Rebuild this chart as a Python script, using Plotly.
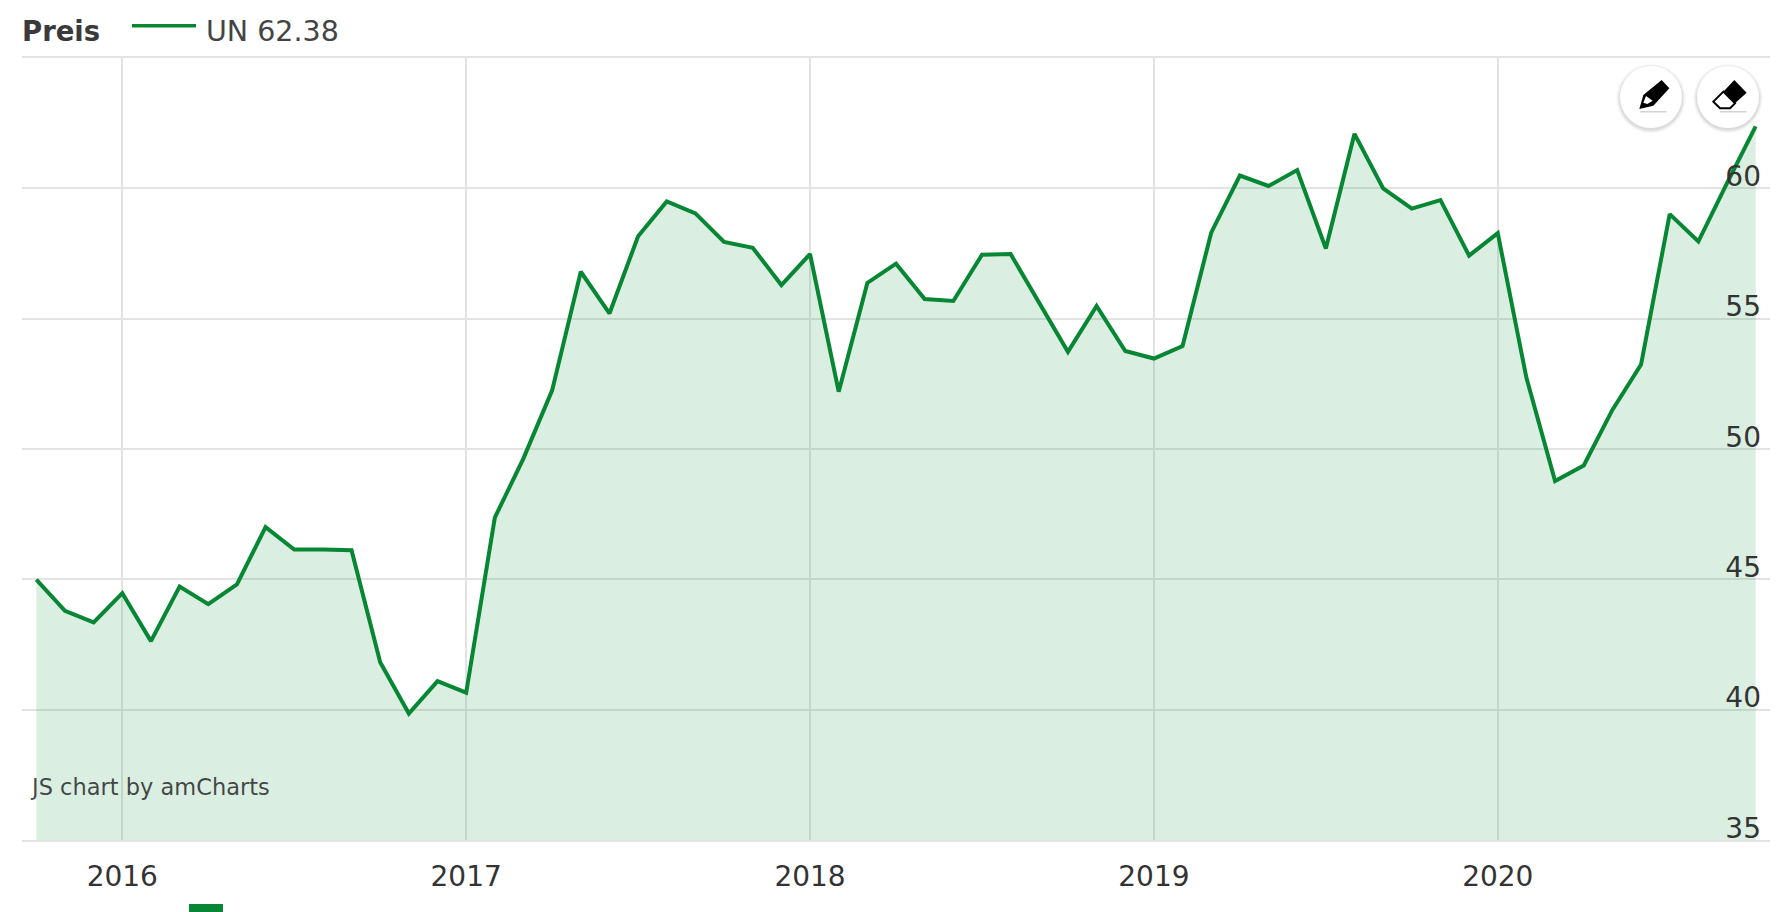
import plotly.graph_objects as go

W, H = 1790, 912
L, R, T, B = 22, 1770, 58, 840

months = [f"{2015 + (9 + i) // 12}-{(9 + i) % 12 + 1:02d}" for i in range(61)]
prices = [44.99, 43.79, 43.35, 44.47, 42.63, 44.72, 44.05, 44.81, 47.0, 46.14, 46.14, 46.12,
          41.82, 39.85, 41.09, 40.65, 47.37, 49.64, 52.25, 56.8, 55.2, 58.16, 59.5, 59.04,
          57.94, 57.72, 56.29, 57.48, 52.2, 56.37, 57.11, 55.75, 55.68, 57.45, 57.48, 55.6,
          53.73, 55.49, 53.76, 53.47, 53.95, 58.3, 60.49, 60.09, 60.7, 57.69, 62.09, 60.0,
          59.22, 59.55, 57.42, 58.28, 52.73, 48.77, 49.37, 51.5, 53.24, 59.01, 57.96, 60.2, 62.38]
year_ticks = ["2016-01", "2017-01", "2018-01", "2019-01", "2020-01"]
year_labels = ["2016", "2017", "2018", "2019", "2020"]
price_ticks = [35, 40, 45, 50, 55, 60, 65]
price_labels = ["35", "40", "45", "50", "55", "60", ""]
series_name = "UN 62.38"

GREEN = "#078733"
FONT = "DejaVu Sans"
GRID = "#e3e3e3"


def px(x):
    return (x - L) / (R - L)


def py(y):
    return (B - y) / (B - T)


def poly(points, fill, line=None, width=0):
    d = "M" + " L".join(f"{px(x):.5f},{py(y):.5f}" for x, y in points) + " Z"
    return dict(type="path", xref="paper", yref="paper", path=d, fillcolor=fill,
                line=dict(color=line or fill, width=width))


def circle(cx, cy, r, fill):
    return dict(type="circle", xref="paper", yref="paper", x0=px(cx - r), x1=px(cx + r),
                y0=py(cy + r), y1=py(cy - r), fillcolor=fill, line=dict(width=0))


def z(x, y):
    return 1560 + x / 3, 40 + y / 3


shapes = []
for cx in (1651, 1728):
    for grow, a in ((4, 0.02), (3, 0.03), (2, 0.04), (1, 0.05)):
        shapes.append(circle(cx, 98.5, 31 + grow, f"rgba(0,0,0,{a})"))
    shapes.append(circle(cx, 97, 31, "#ffffff"))

shapes += [
    poly([z(*p) for p in [(238, 207), (250, 165), (305, 120), (328, 145), (280, 197)]], "#000000"),
    poly([z(*p) for p in [(250, 188), (258, 168), (278, 182), (262, 192)]], "#ffffff"),
    poly([z(*p) for p in [(240, 214), (320, 214), (320, 217), (240, 217)]], "#bdbdbd"),
    poly([z(*p) for p in [(490, 155), (460, 185), (480, 205), (510, 205), (525, 190)]], "#ffffff", "#000000", 2),
    poly([z(*p) for p in [(523, 120), (560, 158), (525, 190), (490, 155)]], "#000000"),
    poly([z(*p) for p in [(480, 214), (560, 214), (560, 217), (480, 217)]], "#bdbdbd"),
    poly([(189, 904), (223, 904), (223, 912), (189, 912)], GREEN),
    poly([(132, 24), (196, 24), (196, 27.5), (132, 27.5)], GREEN),
]

fig = go.Figure()
fig.add_trace(go.Scatter(x=months, y=prices, mode="none", fill="tozeroy",
                         fillcolor="rgba(10,143,60,0.15)", showlegend=False))
fig.add_trace(go.Scatter(x=months, y=prices, mode="lines", name=series_name,
                         line=dict(color=GREEN, width=4), showlegend=False))

fig.update_layout(
    width=W, height=H,
    margin=dict(l=L, r=W - R, t=T, b=H - B, autoexpand=False),
    paper_bgcolor="#ffffff", plot_bgcolor="#ffffff",
    font=dict(family=FONT, color="#333333", size=26),
    showlegend=False,
    xaxis=dict(type="category", categoryorder="array", categoryarray=months,
               range=[-0.5, 60.5], tickmode="array", tickvals=year_ticks, ticktext=year_labels,
               showgrid=True, gridcolor=GRID, gridwidth=1.5, zeroline=False,
               showline=True, mirror=True, linecolor=GRID, linewidth=1.5,
               ticks="", ticklabelstandoff=11, tickfont=dict(size=28, color="#333333")),
    yaxis=dict(range=[35, 65], side="right", tickmode="array", tickvals=price_ticks, ticktext=price_labels,
               showgrid=True, gridcolor=GRID, gridwidth=1.5, zeroline=False,
               ticks="", ticklabelposition="inside", ticklabeloverflow="allow",
               ticklabelstandoff=6, ticklabelshift=-12,
               tickfont=dict(size=28, color="#333333")),
    shapes=shapes,
    annotations=[
        dict(text="<b>Preis</b>", xref="paper", yref="paper", x=px(22), y=py(31), xanchor="left", yanchor="middle",
             showarrow=False, font=dict(size=27.5, color="#3a3a3a"), xshift=-2),
        dict(text=series_name, xref="paper", yref="paper", x=px(204), y=py(31), xanchor="left", yanchor="middle",
             showarrow=False, font=dict(size=28.5, color="#444444")),
        dict(text="JS chart by amCharts", xref="paper", yref="paper", x=px(28), y=py(787), xanchor="left", yanchor="middle",
             showarrow=False, font=dict(size=22.5, color="rgba(40,40,40,0.85)")),
    ],
)

fig.write_html("out.html", config=dict(displayModeBar=False),
               post_script="document.body.style.margin='0';document.documentElement.style.overflow='hidden';")
